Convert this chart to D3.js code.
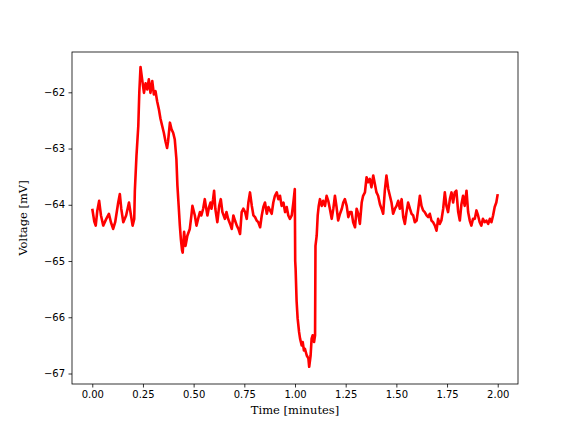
<!DOCTYPE html>
<html>
<head>
<meta charset="utf-8">
<script src="https://cdn.jsdelivr.net/npm/d3@7"></script>
<style>
  html, body { margin: 0; padding: 0; background: #ffffff; }
  svg { display: block; }
</style>
</head>
<body>
<div id="chart"></div>
<script>
// ---- Data ----
const timeMinutes = [
  0.000, 0.010, 0.017, 0.025, 0.034, 0.043, 0.054, 0.069, 0.082, 0.092,
  0.103, 0.113, 0.128, 0.136, 0.143, 0.153, 0.167, 0.181, 0.191, 0.199,
  0.207, 0.210, 0.218, 0.227, 0.232, 0.238,
  0.246, 0.255, 0.263, 0.271, 0.279, 0.287, 0.296, 0.304, 0.312, 0.320,
  0.329, 0.336, 0.345, 0.353, 0.361, 0.369, 0.374, 0.383, 0.391, 0.399,
  0.407, 0.415, 0.420, 0.427, 0.432, 0.437, 0.443, 0.446, 0.453, 0.460,
  0.469, 0.481, 0.489, 0.494, 0.506, 0.514, 0.522, 0.531, 0.538, 0.547,
  0.555, 0.560, 0.568, 0.576, 0.583, 0.588, 0.596, 0.601, 0.607, 0.617,
  0.626, 0.634, 0.642, 0.654, 0.662, 0.670, 0.680, 0.688, 0.696, 0.704,
  0.713, 0.721, 0.729, 0.737, 0.745, 0.754, 0.762, 0.770, 0.778, 0.787,
  0.795, 0.803, 0.811, 0.819, 0.828, 0.836, 0.844, 0.852, 0.861, 0.869,
  0.877, 0.885, 0.893, 0.901, 0.910, 0.918, 0.926, 0.934, 0.943, 0.951,
  0.959, 0.967, 0.975, 0.984, 0.992, 0.999,
  1.001, 1.003, 1.008, 1.013, 1.020, 1.025, 1.033, 1.038, 1.044, 1.049,
  1.058, 1.066, 1.070, 1.077, 1.082, 1.087, 1.094, 1.099,
  1.101, 1.107, 1.112, 1.117, 1.123, 1.132, 1.139, 1.148, 1.156, 1.164,
  1.172, 1.181, 1.189, 1.197, 1.205, 1.213, 1.222, 1.231, 1.238, 1.246,
  1.255, 1.263, 1.271, 1.279, 1.287, 1.296, 1.304, 1.312, 1.320, 1.329,
  1.336, 1.345, 1.353, 1.361, 1.369, 1.377, 1.386, 1.394, 1.402, 1.410,
  1.419, 1.427, 1.435, 1.443, 1.451, 1.460, 1.468, 1.476, 1.484, 1.493,
  1.501, 1.509, 1.517, 1.526, 1.534, 1.542, 1.550, 1.558, 1.567, 1.575,
  1.583, 1.591, 1.600, 1.608, 1.616, 1.624, 1.632, 1.640, 1.649, 1.657,
  1.665, 1.673, 1.681, 1.690, 1.698, 1.706, 1.714, 1.722, 1.731, 1.739,
  1.747, 1.755, 1.764, 1.772, 1.780, 1.788, 1.796, 1.805, 1.813, 1.821,
  1.829, 1.837, 1.846, 1.854, 1.862, 1.870, 1.878, 1.887, 1.895, 1.903,
  1.911, 1.919, 1.927, 1.936, 1.944, 1.953, 1.961, 1.969, 1.977, 1.985,
  1.993, 2.000
];
const voltageMV = [
  -64.07, -64.30, -64.37, -64.10, -63.93, -64.19, -64.37, -64.25, -64.16, -64.31,
  -64.43, -64.31, -63.96, -63.81, -64.07, -64.31, -64.19, -63.96, -64.19, -64.37,
  -64.25, -63.75, -63.13, -62.60, -62.00, -61.55,
  -61.77, -62.01, -61.84, -61.95, -61.77, -62.01, -61.80, -62.04, -61.98, -62.16,
  -62.31, -62.46, -62.60, -62.72, -62.87, -62.99, -62.87, -62.54, -62.66, -62.72,
  -62.84, -63.19, -63.66, -64.07, -64.37, -64.61, -64.81, -64.85, -64.48, -64.73,
  -64.55, -64.43, -64.19, -64.02, -64.19, -64.37, -64.25, -64.13, -64.19, -64.07,
  -63.90, -64.02, -64.19, -64.04, -63.96, -64.07, -63.90, -63.75, -64.07, -64.31,
  -64.02, -63.90, -64.13, -64.25, -64.13, -64.25, -64.34, -64.43, -64.19, -64.28,
  -64.37, -64.43, -64.52, -64.13, -64.07, -64.13, -64.25, -63.96, -63.78, -64.02,
  -64.19, -64.22, -64.28, -64.31, -64.40, -64.19, -64.04, -63.96, -64.16, -64.04,
  -64.10, -64.16, -63.96, -63.84, -63.78, -63.90, -63.84, -64.02, -63.96, -64.13,
  -64.04, -64.19, -64.25, -64.19, -63.96, -63.72,
  -65.00, -65.14, -65.72, -66.02, -66.26, -66.38, -66.50, -66.44, -66.59, -66.56,
  -66.68, -66.73, -66.88, -66.68, -66.38, -66.32, -66.44, -66.32,
  -64.73, -64.55, -64.19, -64.02, -63.90, -64.02, -63.93, -64.02, -63.84, -63.93,
  -64.07, -64.25, -64.07, -63.84, -64.04, -64.28, -64.16, -64.07, -63.96, -63.90,
  -64.02, -64.22, -64.13, -64.13, -64.31, -64.40, -64.07, -64.16, -64.34, -63.96,
  -63.84, -63.78, -63.51, -63.60, -63.54, -63.69, -63.48, -63.63, -63.78, -63.84,
  -63.99, -64.07, -64.16, -63.75, -63.48, -63.72, -63.84, -63.96, -64.16, -64.07,
  -64.02, -63.93, -64.07, -63.90, -64.22, -64.34, -64.13, -63.96, -64.07, -64.16,
  -64.19, -64.31, -64.28, -64.07, -63.84, -64.02, -64.10, -64.13, -64.19, -64.22,
  -64.16, -64.28, -64.31, -64.37, -64.46, -64.25, -64.34, -64.28, -64.07, -63.78,
  -64.02, -64.13, -63.90, -63.78, -63.96, -63.78, -63.75, -64.13, -64.28, -63.99,
  -63.84, -64.02, -63.75, -64.13, -64.28, -64.37, -64.25, -64.25, -64.10, -64.19,
  -64.31, -64.37, -64.25, -64.31, -64.28, -64.34, -64.25, -64.31, -64.19, -64.04,
  -63.96, -63.81
];
const xTickValues = [0.00, 0.25, 0.50, 0.75, 1.00, 1.25, 1.50, 1.75, 2.00];
const yTickValues = [-67, -66, -65, -64, -63, -62];
const xLabel = "Time [minutes]";
const yLabel = "Voltage [mV]";

// ---- Layout ----
const W = 576, H = 432;
const margin = { left: 72, right: 58, top: 52, bottom: 48 };
const iw = W - margin.left - margin.right;
const ih = H - margin.top - margin.bottom;

const points = timeMinutes.map((t, i) => ({ t, v: voltageMV[i] }));

const tMin = d3.min(timeMinutes), tMax = d3.max(timeMinutes);
const vMin = d3.min(voltageMV), vMax = d3.max(voltageMV);
const tPad = (tMax - tMin) * 0.05, vPad = (vMax - vMin) * 0.05;

const x = d3.scaleLinear().domain([tMin - tPad, tMax + tPad]).range([0, iw]);
const y = d3.scaleLinear().domain([vMin - vPad - 0.04, vMax + vPad]).range([ih, 0]);

const svg = d3.select("#chart").append("svg")
  .attr("width", W).attr("height", H)
  .attr("viewBox", `0 0 ${W} ${H}`);

const g = svg.append("g").attr("transform", `translate(${margin.left},${margin.top})`);

const minus = s => s.replace("-", "\u2212");

// Trace
const line = d3.line().x(d => x(d.t)).y(d => y(d.v));
g.append("path")
  .datum(points)
  .attr("fill", "none")
  .attr("stroke", "#ff0000")
  .attr("stroke-width", 2.6)
  .attr("stroke-linejoin", "round")
  .attr("d", line);

// Axes
const xAxis = d3.axisBottom(x).tickValues(xTickValues)
  .tickFormat(d => minus(d3.format(".2f")(d))).tickSizeOuter(0).tickSize(3.5).tickPadding(3.5);
const yAxis = d3.axisLeft(y).tickValues(yTickValues)
  .tickFormat(d => minus(d3.format("d")(d))).tickSizeOuter(0).tickSize(3.5).tickPadding(3.5);

const gx = g.append("g").attr("transform", `translate(0,${ih})`).call(xAxis);
const gy = g.append("g").call(yAxis);
[gx, gy].forEach(a => {
  a.select(".domain").remove();
  a.selectAll(".tick line").attr("stroke", "#000").attr("stroke-width", 0.8);
  a.selectAll(".tick text")
    .attr("fill", "#000")
    .style("font-family", "'DejaVu Sans', sans-serif")
    .style("font-size", "10px");
});

// Frame (spines)
g.append("rect")
  .attr("x", 0).attr("y", 0).attr("width", iw).attr("height", ih)
  .attr("fill", "none").attr("stroke", "#000").attr("stroke-width", 0.8);

// Axis labels
g.append("text")
  .attr("x", iw / 2).attr("y", ih + 30)
  .attr("text-anchor", "middle")
  .style("font-family", "'DejaVu Serif', serif")
  .style("font-size", "11.5px")
  .text(xLabel);

g.append("text")
  .attr("transform", `translate(${-45},${ih / 2}) rotate(-90)`)
  .attr("text-anchor", "middle")
  .style("font-family", "'DejaVu Serif', serif")
  .style("font-size", "11.5px")
  .text(yLabel);
</script>
</body>
</html>
